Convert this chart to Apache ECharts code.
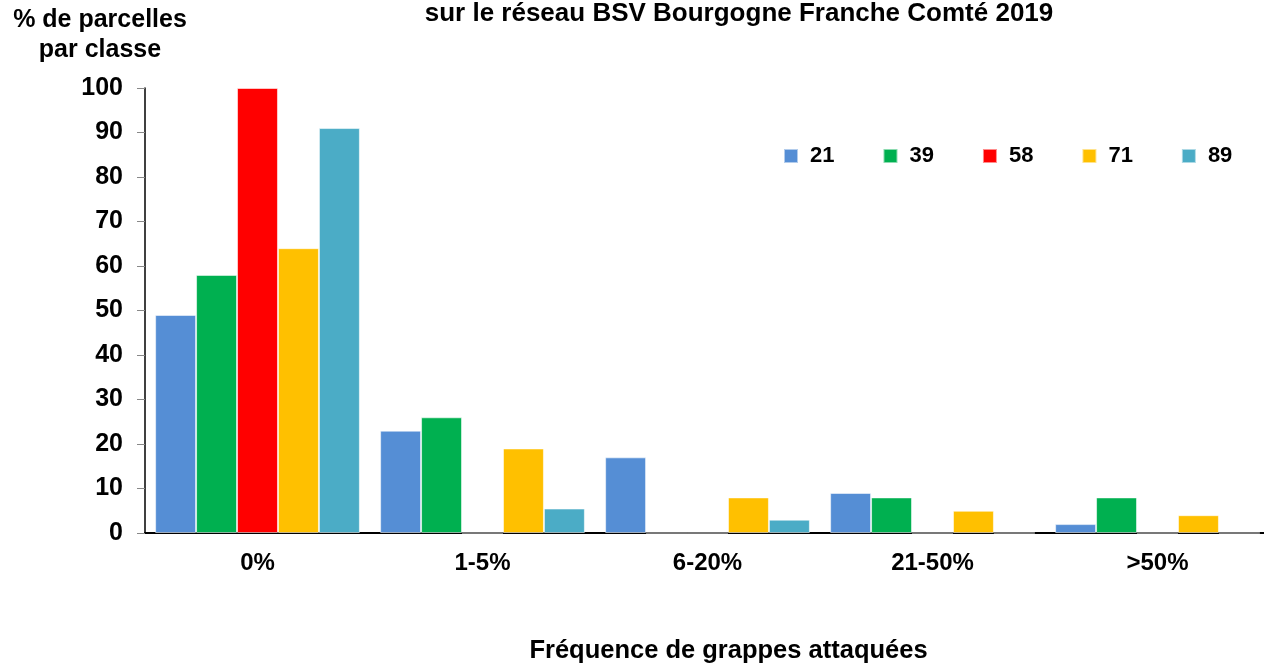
<!DOCTYPE html>
<html>
<head>
<meta charset="utf-8">
<script src="https://cdn.jsdelivr.net/npm/echarts@6/dist/echarts.min.js"></script>
<style>html,body{margin:0;padding:0;background:#fff}#c{width:1264px;height:663px}</style>
</head>
<body>
<div id="c"></div>
<script>
const categories = ['0%', '1-5%', '6-20%', '21-50%', '>50%'];
const seriesNames = ['21', '39', '58', '71', '89'];
const s21 = [49, 23, 17, 9, 2];
const s39 = [58, 26, 0, 8, 8];
const s58 = [100, 0, 0, 0, 0];
const s71 = [64, 19, 8, 5, 4];
const s89 = [91, 5.5, 3, 0, 0];
const yTicks = { min: 0, max: 100, interval: 10 };
const colors = ['#558ED5', '#00B050', '#FF0000', '#FFC000', '#4BACC6'];
const values = [s21, s39, s58, s71, s89];

const font = '"Liberation Sans", Arial, sans-serif';
const chart = echarts.init(document.getElementById('c'));
chart.setOption({
  animation: false,
  title: {
    text: 'sur le réseau BSV Bourgogne Franche Comté 2019',
    left: 734, top: -4, textAlign: 'center',
    textStyle: { fontFamily: font, fontWeight: 'bold', fontSize: 26, color: '#000' }
  },
  legend: {
    left: 783, top: 145, padding: 0,
    itemWidth: 14, itemHeight: 14, itemGap: 48,
    icon: 'rect',
    formatter: '{a|{name}}',
    textStyle: {
      fontFamily: font, fontWeight: 'bold', fontSize: 22, color: '#000',
      rich: { a: { fontFamily: font, fontWeight: 'bold', fontSize: 22, color: '#000', padding: [0, 0, 0, 7] } }
    },
    data: seriesNames
  },
  grid: { left: 145, right: -6, top: 88, bottom: 130, containLabel: false, outerBoundsMode: 'none' },
  xAxis: {
    type: 'category',
    data: categories,
    name: 'Fréquence de grappes attaquées',
    nameLocation: 'middle',
    nameGap: 105,
    nameTextStyle: { fontFamily: font, fontWeight: 'bold', fontSize: 25.5, color: '#000', padding: [0, 0, 0, 42] },
    axisLine: { lineStyle: { color: '#000', width: 2 } },
    axisTick: { length: 8, lineStyle: { color: '#888' } },
    axisLabel: { fontFamily: font, fontWeight: 'bold', fontSize: 24, color: '#000', margin: 18 }
  },
  yAxis: {
    type: 'value',
    min: yTicks.min, max: yTicks.max, interval: yTicks.interval,
    name: '% de parcelles\npar classe',
    nameLocation: 'end',
    nameGap: 23,
    nameTextStyle: { fontFamily: font, fontWeight: 'bold', fontSize: 25, color: '#000', align: 'center', lineHeight: 30, padding: [0, 90, 0, 0] },
    splitLine: { show: false },
    axisLine: { show: true, lineStyle: { color: '#000', width: 1.5 } },
    axisTick: { show: true, length: 8, lineStyle: { color: '#888' } },
    axisLabel: { fontFamily: font, fontWeight: 'bold', fontSize: 25, color: '#000', margin: 22 }
  },
  series: seriesNames.map((n, i) => ({
    name: n,
    type: 'bar',
    data: values[i],
    barGap: '0%',
    barCategoryGap: '9%',
    itemStyle: { color: colors[i], borderColor: 'rgba(255,255,255,0.55)', borderWidth: 1 }
  }))
});
</script>
</body>
</html>
